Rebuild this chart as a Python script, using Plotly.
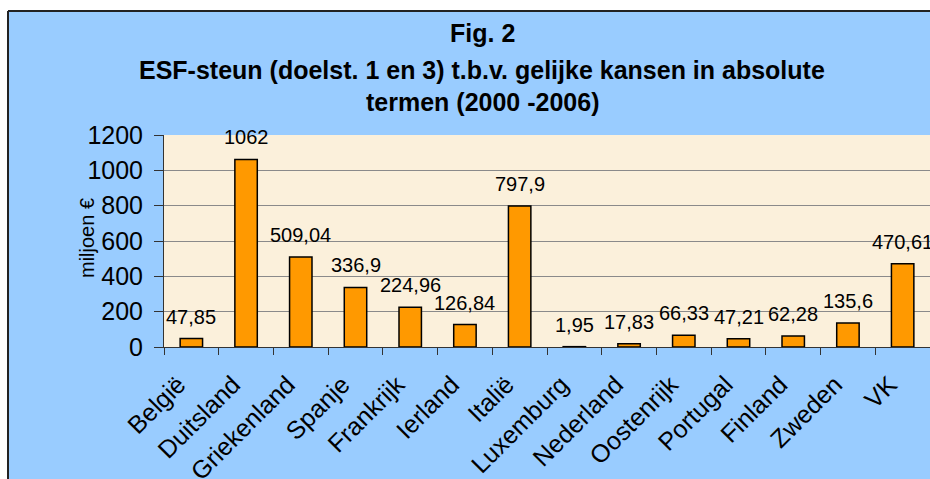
import plotly.graph_objects as go

categories = ['België', 'Duitsland', 'Griekenland', 'Spanje', 'Frankrijk', 'Ierland', 'Italië',
              'Luxemburg', 'Nederland', 'Oostenrijk', 'Portugal', 'Finland', 'Zweden', 'VK']
values = [47.85, 1062, 509.04, 336.9, 224.96, 126.84, 797.9,
          1.95, 17.83, 66.33, 47.21, 62.28, 135.6, 470.61]
labels = [f"{v:g}".replace('.', ',') for v in values]
title_lines = ['Fig. 2',
               'ESF-steun (doelst. 1 en 3) t.b.v. gelijke kansen in absolute',
               'termen (2000 -2006)']
y_title = 'miljoen €'

W, H = 930, 479
ML, MR, MT, MB = 164, 0, 135, 132
PW = W - ML - MR
PH = H - MT - MB


def px(x):
    return (x - ML) / PW


def py(y):
    return (H - MB - y) / PH


FONT = 'Arial, Liberation Sans, sans-serif'

fig = go.Figure(go.Bar(
    x=categories, y=values, width=0.41,
    marker=dict(color='#FF9900', line=dict(color='#000000', width=1.5)),
))

annotations = []
for c, v, t in zip(categories, values, labels):
    annotations.append(dict(x=c, y=v, text=t, showarrow=False, yanchor='bottom',
                            yshift=9, font=dict(size=20, color='#000', family=FONT)))

for line, yc, in zip(title_lines, [33, 70, 102]):
    annotations.append(dict(xref='paper', yref='paper', x=px(482), y=py(yc), text=f'<b>{line}</b>',
                            showarrow=False, xanchor='center', yanchor='middle',
                            font=dict(size=25, color='#000', family=FONT)))

annotations.append(dict(xref='paper', yref='paper', x=px(87), y=py(238), text=y_title,
                        textangle=-90, showarrow=False, xanchor='center', yanchor='middle',
                        font=dict(size=20, color='#000', family=FONT)))

shapes = [
    dict(type='rect', xref='paper', yref='paper', x0=px(-30), x1=px(960), y0=py(11), y1=py(-30),
         fillcolor='white', line=dict(width=0), layer='above'),
    dict(type='rect', xref='paper', yref='paper', x0=px(-30), x1=px(8), y0=py(500), y1=py(-30),
         fillcolor='white', line=dict(width=0), layer='above'),
    dict(type='line', xref='paper', yref='paper', x0=px(8), x1=px(960), y0=py(11), y1=py(11),
         line=dict(color='#222', width=2)),
    dict(type='line', xref='paper', yref='paper', x0=px(8), x1=px(8), y0=py(11), y1=py(500),
         line=dict(color='#222', width=2)),
]

fig.update_layout(
    width=W, height=H,
    margin=dict(l=ML, r=MR, t=MT, b=MB, pad=0, autoexpand=False),
    paper_bgcolor='#99CCFF',
    plot_bgcolor='#FBF0DB',
    showlegend=False,
    font=dict(family=FONT, color='#000'),
    annotations=annotations,
    shapes=shapes,
)
fig.update_xaxes(
    type='category', range=[-0.5, len(categories) - 0.5], tickangle=-45, tickson='boundaries',
    ticks='outside', ticklen=7,
    tickcolor='#333', showline=True, linecolor='#333', linewidth=1, showgrid=False,
    tickfont=dict(size=25, family=FONT, color='#000'),
    ticklabelstandoff=12, ticklabelshift=-13, automargin=False,
)
fig.update_yaxes(
    range=[0, 1200], dtick=200, ticks='outside', ticklen=9, tickcolor='#333',
    showline=True, linecolor='#333', linewidth=1, gridcolor='#8A8A8A', gridwidth=1,
    zeroline=False, tickfont=dict(size=25, family=FONT, color='#000'),
    ticklabelstandoff=6, automargin=False,
)

fig.write_html('out.html', config={'displayModeBar': False},
               post_script="document.body.style.margin='0px';document.body.style.overflow='hidden';")
